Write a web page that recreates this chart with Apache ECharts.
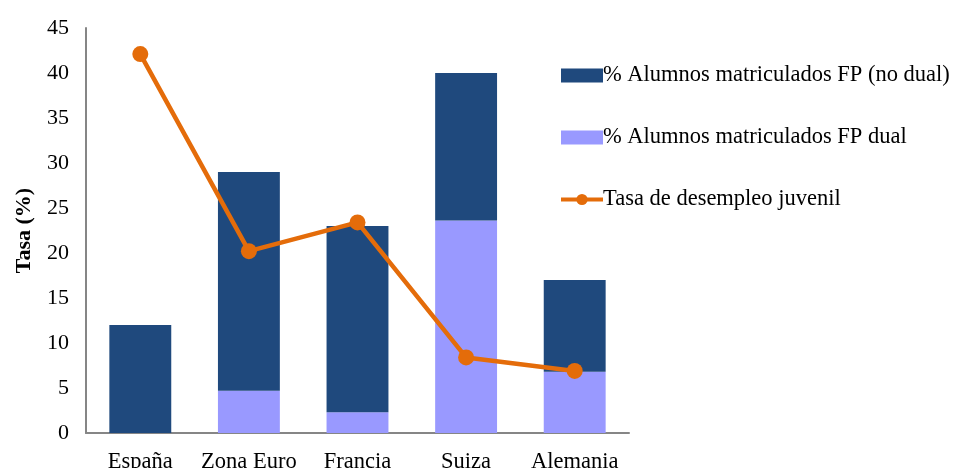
<!DOCTYPE html>
<html><head><meta charset="utf-8">
<script src="https://cdn.jsdelivr.net/npm/echarts@6/dist/echarts.min.js"></script>
<style>html,body{margin:0;padding:0;background:#fff}#c{width:956px;height:468px}</style>
</head><body><div id="c"></div>
<script>
const categories = ['España', 'Zona Euro', 'Francia', 'Suiza', 'Alemania'];
const dual = [0, 4.7, 2.3, 23.6, 6.8];
const noDual = [12, 24.3, 20.7, 16.4, 10.2];
const desempleo = [42.1, 20.2, 23.4, 8.4, 6.9];
const yTicks = [0, 5, 10, 15, 20, 25, 30, 35, 40, 45];

const font = 'Liberation Serif';
const chart = echarts.init(document.getElementById('c'));
chart.setOption({
  animation: false,
  textStyle: { fontFamily: font },
  grid: { left: 86, right: 327, top: 28, bottom: 35, containLabel: false, outerBoundsMode: 'none' },
  legend: {
    orient: 'vertical', left: 554, top: 59, itemGap: 39,
    itemWidth: 42, itemHeight: 14,
    textStyle: { fontFamily: font, fontSize: 22.5, color: '#000', padding: [0,0,0,-5] },
    data: [
      { name: '% Alumnos matriculados FP (no dual)', icon: 'rect' },
      { name: '% Alumnos matriculados FP dual', icon: 'rect' },
      { name: 'Tasa de desempleo juvenil', lineStyle: { width: 4 } }
    ]
  },
  xAxis: {
    type: 'category', data: categories,
    axisLine: { lineStyle: { color: '#868686', width: 2 } },
    axisTick: { show: false },
    axisLabel: { fontFamily: font, fontSize: 22.5, color: '#000', margin: 18, interval: 0 }
  },
  yAxis: {
    type: 'value', min: 0, max: 45, interval: 5,
    name: 'Tasa (%)', nameLocation: 'middle', nameGap: 51, nameRotate: 90,
    nameTextStyle: { fontFamily: font, fontSize: 22, fontWeight: 'bold', color: '#000' },
    splitLine: { show: false },
    axisLine: { show: true, lineStyle: { color: '#868686', width: 2 } },
    axisTick: { show: false },
    axisLabel: { fontFamily: font, fontSize: 22, color: '#000', margin: 17,
      formatter: v => yTicks.includes(v) ? String(v) : '' }
  },
  series: [
    { name: '% Alumnos matriculados FP dual', type: 'bar', stack: 'a', data: dual,
      barWidth: '57%', itemStyle: { color: '#9999FF' } },
    { name: '% Alumnos matriculados FP (no dual)', type: 'bar', stack: 'a', data: noDual,
      barWidth: '57%', itemStyle: { color: '#1F497D' } },
    { name: 'Tasa de desempleo juvenil', type: 'line', data: desempleo,
      symbol: 'circle', symbolSize: 16,
      lineStyle: { color: '#E46C0A', width: 4.5 }, itemStyle: { color: '#E46C0A' } }
  ]
});
</script></body></html>
